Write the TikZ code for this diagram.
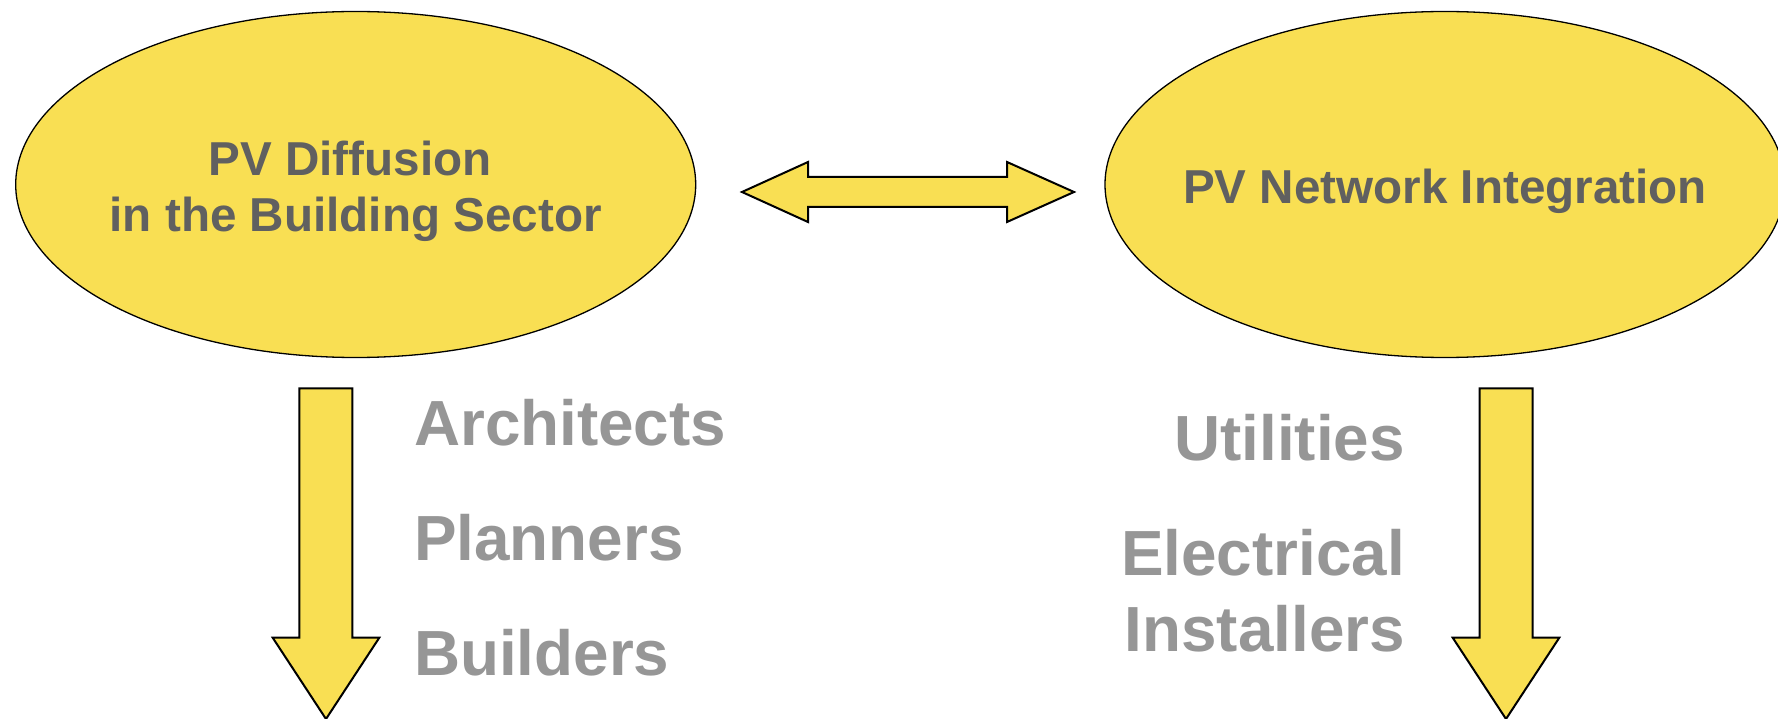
\documentclass[tikz,border=0pt]{standalone}
\usepackage{fontspec}
\setmainfont{Liberation Sans}
\usetikzlibrary{shapes.geometric}
\definecolor{pvyellow}{RGB}{249,223,83}
\definecolor{darktext}{RGB}{96,96,96}
\definecolor{lighttext}{RGB}{150,150,150}
\tikzset{
  blob/.style={ellipse, draw=black, line width=1.3pt, fill=pvyellow,
    minimum width=680pt, minimum height=346pt, inner sep=0pt},
  titletext/.style={inner sep=0pt, anchor=base, text=darktext,
    font=\bfseries\fontsize{47.6}{55}\selectfont},
  roletext/.style={inner sep=0pt, text=lighttext,
    font=\bfseries\fontsize{63.8}{70}\selectfont},
  blockarrow/.style={draw=black, line width=2pt, fill=pvyellow, line join=miter}
}
\begin{document}
\begin{tikzpicture}[x=1pt,y=-1pt]
\useasboundingbox (0,0) rectangle (1778,719);
\clip (0,0) rectangle (1778,719);
\fill[white] (0,0) rectangle (1778,719);

% ellipses
\node[blob] (left) at (355.7,184.5) {};
\node[blob] (right) at (1445,184.5) {};

% ellipse titles
\node[titletext] (l1) at (350,175.8) {PV Diffusion};
\node[titletext] (l2) at (355.7,231.3) {in the Building Sector};
\node[titletext] (r1) at (1445,204) {PV Network Integration};

% double arrow
\coordinate (dl) at (742,192);
\coordinate (dr) at (1074,192);
\draw[blockarrow] (dl) -- (808,162) -- (808,177) -- (1007,177) -- (1007,162)
  -- (dr) -- (1007,222) -- (1007,207) -- (808,207) -- (808,222) -- cycle;

% left down arrow
\coordinate (la) at (326,719);
\draw[blockarrow] (299.3,388.3) -- (352.3,388.3) -- (352.3,637.7) -- (379.3,637.7)
  -- (la) -- (272.7,637.7) -- (299.3,637.7) -- cycle;

% right down arrow
\coordinate (ra) at (1506,719);
\draw[blockarrow] (1479.5,388.3) -- (1532.5,388.3) -- (1532.5,637.7) -- (1559.3,637.7)
  -- (ra) -- (1452.7,637.7) -- (1479.5,637.7) -- cycle;

% left role labels
\node[roletext, anchor=base west] (arch) at (414,445) {Architects};
\node[roletext, anchor=base west] (plan) at (414,560.7) {Planners};
\node[roletext, anchor=base west] (build) at (414,675) {Builders};

% right role labels
\node[roletext, anchor=base east] (util) at (1405,460.7) {Utilities};
\node[roletext, anchor=base east] (elec) at (1405,575) {Electrical};
\node[roletext, anchor=base east] (inst) at (1405,651.7) {Installers};
\end{tikzpicture}
\end{document}
